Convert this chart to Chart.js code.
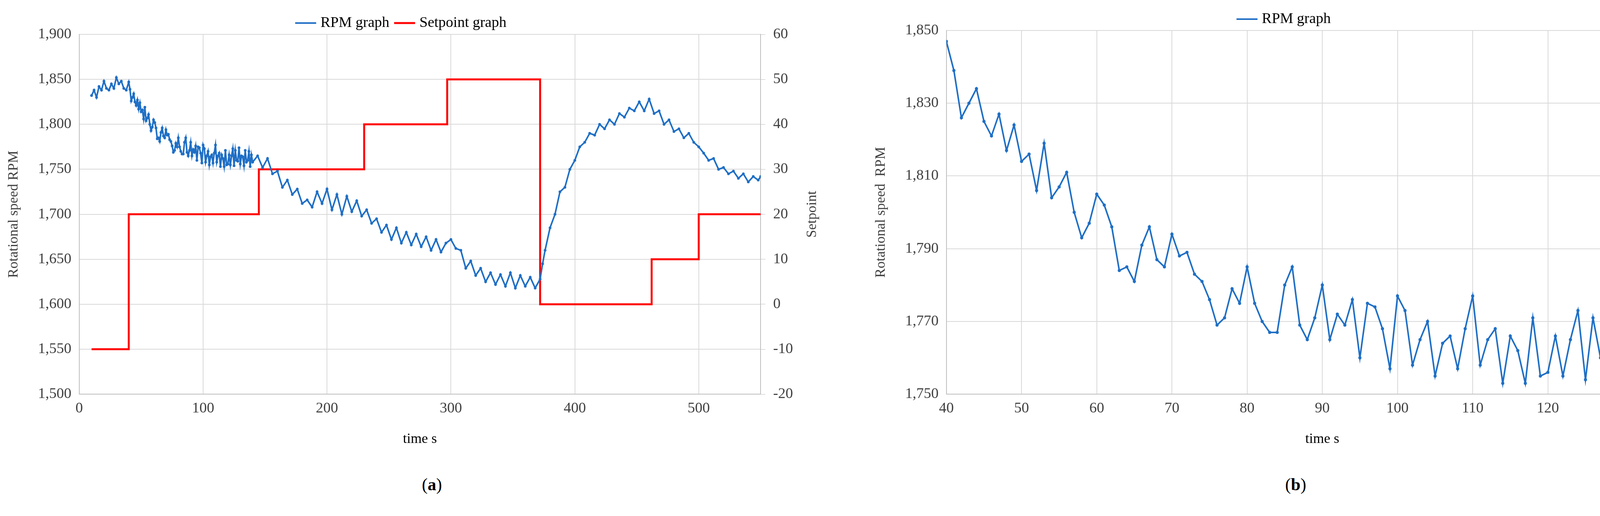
<!DOCTYPE html>
<html>
<head>
<meta charset="utf-8">
<script src="https://cdn.jsdelivr.net/npm/chart.js@4"></script>
<style>
  body { margin: 0; background: #fff; width: 4390px; height: 1321px; position: relative; overflow: hidden; }
  .box { position: absolute; top: 0; height: 1150px; }
  .cap { position: absolute; top: 1215px; font: 44px "Liberation Serif", serif; color: #000; }
</style>
</head>
<body>
<div class="box" style="left:0;width:2200px"><canvas id="chartA" width="2200" height="1150"></canvas></div>
<div class="box" style="left:2200px;width:2190px"><canvas id="chartB" width="2190" height="1150"></canvas></div>
<div class="cap" style="left:1080px">(<b>a</b>)</div>
<div class="cap" style="left:3290px">(<b>b</b>)</div>
<script>
// zoomed window (b), one sample per second from 40 s to 140 s
var zoomTimes = [];
for (var t = 40; t <= 140; t++) zoomTimes.push(t);
var zoomRpm = [1847, 1839, 1826, 1830, 1834, 1825, 1821, 1827, 1817, 1824,
  1814, 1816, 1806, 1819, 1804, 1807, 1811, 1800, 1793, 1797,
  1805, 1802, 1796, 1784, 1785, 1781, 1791, 1796, 1787, 1785,
  1794, 1788, 1789, 1783, 1781, 1776, 1769, 1771, 1779, 1775,
  1785, 1775, 1770, 1767, 1767, 1780, 1785, 1769, 1765, 1771,
  1780, 1765, 1772, 1769, 1776, 1760, 1775, 1774, 1768, 1757,
  1777, 1773, 1758, 1765, 1770, 1755, 1764, 1766, 1757, 1768,
  1777, 1758, 1765, 1768, 1753, 1766, 1762, 1753, 1771, 1755,
  1756, 1766, 1755, 1765, 1773, 1754, 1771, 1760, 1759, 1774,
  1756, 1765, 1764, 1754, 1771, 1758, 1760, 1770, 1753, 1766, 1758];

// full run (a): start segment, then the zoomed window, then the rest
var startTimes = [10, 12, 14, 16, 18, 20, 22, 24, 26, 28, 30, 32, 34, 36, 38];
var startRpm = [1832, 1838, 1830, 1842, 1838, 1848, 1840, 1838, 1845, 1840, 1852, 1845, 1848, 1840, 1838];
var restTimes = [144, 148, 152, 156, 160, 164, 168, 172, 176, 180, 184, 188, 192, 196, 200,
  204, 208, 212, 216, 220, 224, 228, 232, 236, 240, 244, 248, 252, 256, 260,
  264, 268, 272, 276, 280, 284, 288, 292, 296, 300, 304, 308, 312, 316, 320,
  324, 328, 332, 336, 340, 344, 348, 352, 356, 360, 364, 368, 372, 374, 376,
  380, 384, 388, 392, 396, 400, 404, 408, 412, 416, 420, 424, 428, 432, 436,
  440, 444, 448, 452, 456, 460, 464, 468, 472, 476, 480, 484, 488, 492, 496,
  500, 504, 508, 512, 516, 520, 524, 528, 532, 536, 540, 544, 548, 550];
var restRpm = [1765, 1752, 1762, 1745, 1748, 1730, 1738, 1722, 1728, 1712, 1716, 1708, 1725, 1712, 1728,
  1705, 1722, 1700, 1720, 1703, 1715, 1698, 1705, 1690, 1695, 1680, 1688, 1672, 1685, 1668,
  1680, 1666, 1678, 1664, 1675, 1660, 1672, 1658, 1668, 1672, 1662, 1660, 1640, 1648, 1632,
  1640, 1625, 1635, 1622, 1633, 1620, 1635, 1618, 1632, 1620, 1630, 1618, 1628, 1645, 1660,
  1685, 1700, 1725, 1730, 1750, 1760, 1775, 1780, 1790, 1788, 1800, 1795, 1805, 1800, 1812,
  1808, 1818, 1815, 1825, 1815, 1828, 1812, 1815, 1800, 1805, 1792, 1795, 1785, 1790, 1780,
  1775, 1768, 1760, 1762, 1750, 1752, 1745, 1748, 1740, 1745, 1736, 1742, 1738, 1742];

// setpoint steps (value holds until next change)
var setTimes = [10, 40, 145, 230, 297, 372, 462, 500, 550];
var setValues = [-10, 20, 30, 40, 50, 0, 10, 20, 20];

var serif = '"Liberation Serif", serif';
var blue = '#1f6fc5';
var grid = '#d9d9d9';

function pairs(xs, ys) {
  return xs.map(function(x, i) { return { x: x, y: ys[i] }; });
}

var rpmA = pairs(startTimes, startRpm).concat(pairs(zoomTimes, zoomRpm), pairs(restTimes, restRpm));

function tickFont() { return { family: serif, size: 38 }; }
function titleFont() { return { family: serif, size: 36 }; }

// right-hand axis title reading bottom to top
var rightTitle = {
  id: 'rightTitle',
  afterDraw: function(chart) {
    var c = chart.ctx, area = chart.chartArea;
    c.save();
    c.translate(2080, (area.top + area.bottom) / 2);
    c.rotate(-Math.PI / 2);
    c.font = '36px ' + serif;
    c.fillStyle = '#404040';
    c.textAlign = 'center';
    c.textBaseline = 'middle';
    c.fillText('Setpoint', 0, 0);
    c.restore();
  }
};

var legendOpts = {
  position: 'top',
  labels: { font: { family: serif, size: 38 }, color: '#000', usePointStyle: true, pointStyle: 'line', boxWidth: 70, padding: 20 }
};

new Chart(document.getElementById('chartA'), {
  type: 'line',
  data: {
    datasets: [{
      label: 'RPM graph',
      data: rpmA,
      borderColor: blue,
      backgroundColor: blue,
      borderWidth: 4,
      pointRadius: 1.5,
      yAxisID: 'y'
    }, {
      label: 'Setpoint graph',
      data: pairs(setTimes, setValues),
      borderColor: '#ff0000',
      backgroundColor: '#ff0000',
      borderWidth: 5,
      stepped: 'before',
      pointRadius: 0,
      yAxisID: 'y1'
    }]
  },
  plugins: [rightTitle],
  options: {
    responsive: false,
    animation: false,
    devicePixelRatio: 1,
    layout: { padding: { left: 10, right: 150, top: 20 } },
    plugins: { legend: legendOpts, tooltip: { enabled: false } },
    scales: {
      x: {
        type: 'linear', min: 0, max: 550,
        ticks: { stepSize: 100, font: tickFont(), color: '#404040', padding: 14,
          callback: function(v) { return v % 100 === 0 ? v : null; } },
        grid: { color: grid, lineWidth: 2, tickLength: 0 },
        border: { color: '#bfbfbf', width: 2 },
        title: { display: true, text: 'time s', font: titleFont(), color: '#000', padding: { top: 20 } }
      },
      y: {
        min: 1500, max: 1900,
        ticks: { stepSize: 50, font: tickFont(), color: '#404040', padding: 20 },
        grid: { color: grid, lineWidth: 2, tickLength: 0 },
        border: { color: '#bfbfbf', width: 2 },
        title: { display: true, text: 'Rotational speed RPM', font: titleFont(), color: '#404040', padding: { bottom: 20 } }
      },
      y1: {
        position: 'right', min: -20, max: 60,
        ticks: { stepSize: 10, font: tickFont(), color: '#404040', padding: 20 },
        grid: { drawOnChartArea: false, tickLength: 12, color: '#bfbfbf' },
        border: { color: '#bfbfbf', width: 2 }
      }
    }
  }
});

new Chart(document.getElementById('chartB'), {
  type: 'line',
  data: {
    datasets: [{
      label: 'RPM graph',
      data: pairs(zoomTimes, zoomRpm),
      borderColor: blue,
      backgroundColor: blue,
      borderWidth: 4,
      pointRadius: 2
    }]
  },
  options: {
    responsive: false,
    animation: false,
    devicePixelRatio: 1,
    layout: { padding: { left: 30, right: 40, top: 10 } },
    plugins: { legend: legendOpts, tooltip: { enabled: false } },
    scales: {
      x: {
        type: 'linear', min: 40, max: 140,
        ticks: { stepSize: 10, font: tickFont(), color: '#404040', padding: 14 },
        grid: { color: grid, lineWidth: 2, tickLength: 0 },
        border: { color: '#bfbfbf', width: 2 },
        title: { display: true, text: 'time s', font: titleFont(), color: '#000', padding: { top: 20 } }
      },
      y: {
        min: 1750, max: 1850,
        ticks: { stepSize: 20, font: tickFont(), color: '#404040', padding: 20 },
        grid: { color: grid, lineWidth: 2, tickLength: 0 },
        border: { color: '#bfbfbf', width: 2 },
        title: { display: true, text: 'Rotational speed  RPM', font: titleFont(), color: '#404040', padding: { bottom: 20 } }
      }
    }
  }
});
</script>
</body>
</html>
